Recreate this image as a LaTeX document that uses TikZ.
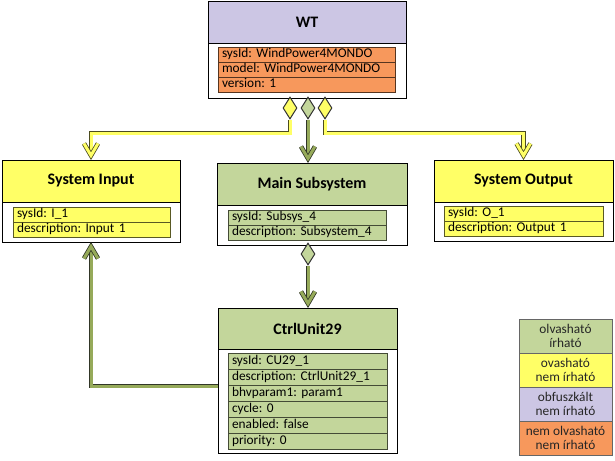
\documentclass[tikz,border=0pt]{standalone}
\usepackage{fontspec}
\setmainfont{Carlito}
\frenchspacing
\usetikzlibrary{shapes.geometric,fit,positioning}

\definecolor{lav}{RGB}{204,198,228}
\definecolor{org}{RGB}{247,152,92}
\definecolor{grn}{RGB}{195,214,155}
\definecolor{yel}{RGB}{255,255,102}
\definecolor{grnD}{RGB}{150,170,90}

\tikzset{
  box/.style={draw=black, line width=0.75pt, fill=white, inner sep=0pt},
  hdr/.style={draw=black, line width=0.75pt, inner sep=0pt},
  title/.style={inner sep=0pt, font=\fontsize{12}{14}\selectfont\bfseries},
  attr/.style={draw=#1!35!black, fill=#1, line width=0.75pt,
    anchor=north west, outer sep=0pt, inner xsep=3pt, inner ysep=0pt,
    minimum height=11.25pt, text height=7.2pt, text depth=2.2pt,
    align=left, font=\fontsize{10}{12}\selectfont},
  dia/.style={diamond, draw=black!80, line width=0.75pt, inner sep=0pt,
    minimum width=10.5pt, minimum height=16.5pt},
  linkY/.style={draw=yel!30!black, double=yel, double distance=2.25pt,
    line width=0.6pt, line join=miter},
  linkG/.style={draw=grn!25!black, double=grnD, double distance=2.25pt,
    line width=0.6pt, line join=miter},
  leg/.style={draw=black!60, line width=0.75pt, anchor=north, outer sep=0pt,
    inner sep=0pt, minimum width=69.75pt, minimum height=25.5pt,
    align=center, text=black!85, font=\fontsize{10}{10.5}\selectfont}
}

\begin{document}
\begin{tikzpicture}[x=0.75pt, y=-0.75pt]
  \useasboundingbox (0,0) rectangle (615,461);

  % WT
  \node[box, fit={(208,1) (406,98)}] (wt) {};
  \node[hdr, fill=lav, fit={(208,1) (406,43)}] (wt-h) {};
  \node[title] (wt-t) at (wt-h.center) {WT};
  \foreach \t [count=\i] in {sysId: WindPower4MONDO, model: WindPower4MONDO,
      version: 1}
    \node[attr=org, text width=126.75pt] (wt-\i) at (218,32+15*\i) {\t};

  % System Input
  \node[box, fit={(2,160) (180,242)}] (in) {};
  \node[hdr, fill=yel, fit={(2,160) (180,202)}] (in-h) {};
  \node[title] (in-t) at (in-h.center) {System Input};
  \foreach \t [count=\i] in {sysId: I\_1, description: Input 1}
    \node[attr=yel, text width=111.75pt] (in-\i) at (13,192+15*\i) {\t};

  % Main Subsystem
  \node[box, fit={(217,163) (407,245)}] (main) {};
  \node[hdr, fill=grn, fit={(217,163) (407,205)}] (main-h) {};
  \node[title] (main-t) at (main-h.center) {Main Subsystem};
  \foreach \t [count=\i] in {sysId: Subsys\_4, description: Subsystem\_4}
    \node[attr=grn, text width=112.5pt] (main-\i) at (228,195+15*\i) {\t};

  % System Output
  \node[box, fit={(434,160) (613,241)}] (out) {};
  \node[hdr, fill=yel, fit={(434,160) (613,202)}] (out-h) {};
  \node[title] (out-t) at (out-h.center) {System Output};
  \foreach \t [count=\i] in {sysId: O\_1, description: Output 1}
    \node[attr=yel, text width=113.25pt] (out-\i) at (444,191+15*\i) {\t};

  % CtrlUnit29
  \node[box, fit={(218,308) (397,453)}] (cu) {};
  \node[hdr, fill=grn, fit={(218,308) (397,349)}] (cu-h) {};
  \node[title] (cu-t) at (cu-h.center) {CtrlUnit29};
  \foreach \t [count=\i] in {sysId: CU29\_1, description: CtrlUnit29\_1,
      bhvparam1: param1, cycle: 0, enabled: false, priority: 0}
    \node[attr=grn, text width=113.25pt, minimum height=12pt]
      (cu-\i) at (228,337+16*\i) {\t};

  % diamonds
  \node[dia, fill=yel] (d-in) at (290,108) {};
  \node[dia, fill=grn] (d-main) at (308,108) {};
  \node[dia, fill=yel] (d-out) at (325,108) {};
  \node[dia, fill=grn] (d-cu) at (308,254) {};

  \coordinate (bus) at (0,133);
  \coordinate (cubus) at (0,386);

  % connectors
  \draw[linkY] (d-in.south) -- (d-in.south |- bus) -- (in.north |- bus)
    -- ([shift={(0,-4)}]in.north);
  \draw[linkY] ([shift={(-7,-16)}]in.north) -- ([shift={(0,-4)}]in.north)
    -- ([shift={(7,-16)}]in.north);
  \draw[linkY] (d-out.south) -- (d-out.south |- bus) -- (out.north |- bus)
    -- ([shift={(0,-4)}]out.north);
  \draw[linkY] ([shift={(-7,-16)}]out.north) -- ([shift={(0,-4)}]out.north)
    -- ([shift={(7,-16)}]out.north);
  \draw[linkG] (d-main.south) -- ([shift={(0,-4)}]d-main.south |- main.north);
  \draw[linkG] ([shift={(-7,-16)}]d-main.south |- main.north)
    -- ([shift={(0,-4)}]d-main.south |- main.north)
    -- ([shift={(7,-16)}]d-main.south |- main.north);
  \draw[linkG] (d-cu.south) -- ([shift={(0,-4)}]d-cu.south |- cu.north);
  \draw[linkG] ([shift={(-7,-16)}]d-cu.south |- cu.north)
    -- ([shift={(0,-4)}]d-cu.south |- cu.north)
    -- ([shift={(7,-16)}]d-cu.south |- cu.north);
  \draw[linkG] (cu.west |- cubus) -- (in.south |- cubus)
    -- ([shift={(0,4)}]in.south);
  \draw[linkG] ([shift={(-7,16)}]in.south) -- ([shift={(0,4)}]in.south)
    -- ([shift={(7,16)}]in.south);

  % legend
  \node[leg, fill=grn] (k1) at (565.5,319) {olvasható\\írható};
  \node[leg, fill=yel, below=0pt of k1] (k2) {ovasható\\nem írható};
  \node[leg, fill=lav, below=0pt of k2] (k3) {obfuszkált\\nem írható};
  \node[leg, fill=org, below=0pt of k3] (k4) {nem olvasható\\nem írható};
\end{tikzpicture}
\end{document}
